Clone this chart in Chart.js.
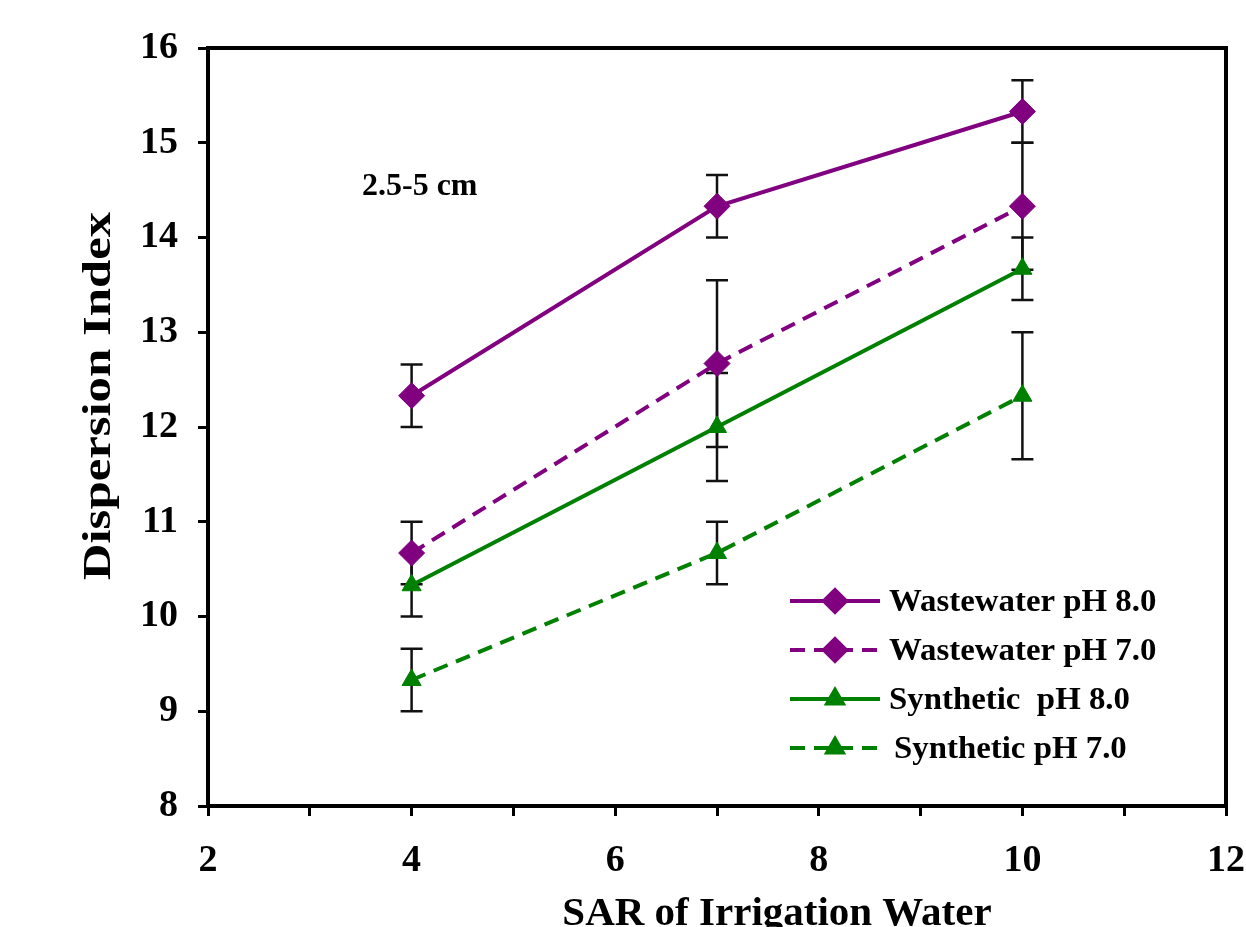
<!DOCTYPE html>
<html>
<head>
<meta charset="utf-8">
<script src="https://cdn.jsdelivr.net/npm/chart.js@4.4.1/dist/chart.umd.min.js"></script>
<style>
  body { margin: 0; background: #fff; }
  canvas { display: block; }
</style>
</head>
<body>
<canvas id="chart" width="1246" height="927"></canvas>
<script>
// SAR levels and mean dispersion index for each water type / pH
const sar = [4, 7, 10];
const wastewater8 = [12.33, 14.33, 15.33];
const wastewater7 = [10.67, 12.67, 14.33];
const synthetic8 = [10.33, 12.0, 13.67];
const synthetic7 = [9.33, 10.67, 12.33];

// standard deviations (error bars)
const wastewater8Err = [0.33, 0.33, 0.33];
const wastewater7Err = [0.33, 0.88, 0.67];
const synthetic8Err = [0.33, 0.57, 0.33];
const synthetic7Err = [0.33, 0.33, 0.67];

const seriesLabels = ['Wastewater pH 8.0', 'Wastewater pH 7.0', 'Synthetic  pH 8.0', 'Synthetic pH 7.0'];
const xTicks = [2, 4, 6, 8, 10, 12];
const yTicks = [8, 9, 10, 11, 12, 13, 14, 15, 16];
const depthLabel = '2.5-5 cm';
const xTitle = 'SAR of Irrigation Water';
const yTitle = 'Dispersion Index';

const PURPLE = '#800080';
const GREEN = '#008000';
const FONT = '"Liberation Serif", "Times New Roman", serif';

function pts(ys, errs) {
    return sar.map((x, i) => ({ x: x, y: ys[i], err: errs[i] }));
}

function makeSet(label, ys, errs, color, dashed, style) {
    return {
        label: label,
        data: pts(ys, errs),
        borderColor: color,
        backgroundColor: color,
        borderWidth: 4,
        borderDash: dashed ? [15, 9] : [],
        pointStyle: style,
        pointRadius: style === 'rectRot' ? 13 : 11,
        pointBorderWidth: 1,
        tension: 0,
        clip: false
    };
}

// error bars drawn under the lines and markers
const errorBars = {
    id: 'errorBars',
    beforeDatasetsDraw(chart) {
        const ctx = chart.ctx;
        const xs = chart.scales.x, ys = chart.scales.y;
        ctx.save();
        ctx.strokeStyle = '#111';
        ctx.lineWidth = 2.5;
        chart.data.datasets.forEach(ds => {
            ds.data.forEach(p => {
                const px = xs.getPixelForValue(p.x);
                const top = ys.getPixelForValue(p.y + p.err);
                const bot = ys.getPixelForValue(p.y - p.err);
                ctx.beginPath();
                ctx.moveTo(px, top); ctx.lineTo(px, bot);
                ctx.moveTo(px - 11, top); ctx.lineTo(px + 11, top);
                ctx.moveTo(px - 11, bot); ctx.lineTo(px + 11, bot);
                ctx.stroke();
            });
        });
        ctx.restore();
    }
};

// frame, titles, depth note and the legend
const decorations = {
    id: 'decorations',
    afterDraw(chart) {
        const ctx = chart.ctx;
        const a = chart.chartArea;
        ctx.save();
        ctx.strokeStyle = '#000';
        ctx.lineWidth = 4;
        ctx.strokeRect(a.left, a.top, a.right - a.left, a.bottom - a.top);

        ctx.fillStyle = '#000';
        ctx.font = 'bold 32px ' + FONT;
        ctx.textBaseline = 'alphabetic';
        ctx.textAlign = 'left';
        ctx.fillText(depthLabel, 362, 195);

        ctx.font = 'bold 41px ' + FONT;
        ctx.textAlign = 'center';
        ctx.fillText(xTitle, 777, 925);

        ctx.save();
        ctx.translate(110, 396);
        ctx.rotate(-Math.PI / 2);
        ctx.scale(1.27, 1);
        ctx.font = 'bold 40px ' + FONT;
        ctx.textAlign = 'center';
        ctx.fillText(yTitle, 0, 0);
        ctx.restore();

        const rows = [601, 650, 699, 748];
        chart.data.datasets.forEach((ds, i) => {
            const y = rows[i];
            ctx.save();
            ctx.strokeStyle = ds.borderColor;
            ctx.lineWidth = ds.borderWidth;
            ctx.setLineDash(ds.borderDash);
            ctx.beginPath();
            ctx.moveTo(790, y); ctx.lineTo(880, y);
            ctx.stroke();
            ctx.setLineDash([]);
            ctx.fillStyle = ds.backgroundColor;
            Chart.helpers.drawPoint(ctx, {
                pointStyle: ds.pointStyle,
                radius: ds.pointRadius - 2,
                borderWidth: 1,
                rotation: 0
            }, 835, y);
            ctx.fill();
            ctx.restore();

            ctx.save();
            ctx.fillStyle = '#000';
            ctx.font = 'bold 31px ' + FONT;
            ctx.textAlign = 'left';
            ctx.translate(i === 3 ? 894 : 889, y + 10);
            ctx.scale(1.06, 1);
            ctx.fillText(ds.label, 0, 0);
            ctx.restore();
        });
        ctx.restore();
    }
};

new Chart(document.getElementById('chart'), {
    type: 'line',
    data: {
        datasets: [
            makeSet(seriesLabels[0], wastewater8, wastewater8Err, PURPLE, false, 'rectRot'),
            makeSet(seriesLabels[1], wastewater7, wastewater7Err, PURPLE, true, 'rectRot'),
            makeSet(seriesLabels[2], synthetic8, synthetic8Err, GREEN, false, 'triangle'),
            makeSet(seriesLabels[3], synthetic7, synthetic7Err, GREEN, true, 'triangle')
        ]
    },
    options: {
        responsive: false,
        animation: false,
        devicePixelRatio: 1,
        layout: { padding: { top: 48, right: 20, left: 0, bottom: 0 } },
        plugins: { legend: { display: false }, tooltip: { enabled: false } },
        scales: {
            x: {
                type: 'linear',
                min: xTicks[0],
                max: xTicks[xTicks.length - 1],
                afterFit: s => {
                    s.height = 121;
                    s.paddingLeft = 0;
                    s.paddingRight = 0;
                },
                afterBuildTicks: s => {
                    const t = [];
                    for (let v = s.min; v <= s.max; v++) t.push({ value: v });
                    s.ticks = t;
                },
                ticks: {
                    autoSkip: false,
                    maxRotation: 0,
                    padding: 22,
                    color: '#000',
                    font: { family: FONT, size: 38, weight: 'bold' },
                    callback: v => xTicks.includes(v) ? String(v) : ''
                },
                grid: { drawOnChartArea: false, drawTicks: true, tickLength: 10, color: '#000', lineWidth: 3 },
                border: { display: true, color: '#000', width: 4 }
            },
            y: {
                min: yTicks[0],
                max: yTicks[yTicks.length - 1],
                afterFit: s => {
                    s.width = 208;
                    s.paddingTop = 0;
                    s.paddingBottom = 0;
                },
                afterBuildTicks: s => { s.ticks = yTicks.map(v => ({ value: v })); },
                ticks: {
                    padding: 20,
                    color: '#000',
                    font: { family: FONT, size: 38, weight: 'bold' }
                },
                grid: { drawOnChartArea: false, drawTicks: true, tickLength: 10, color: '#000', lineWidth: 3 },
                border: { display: true, color: '#000', width: 4 }
            }
        }
    },
    plugins: [errorBars, decorations]
});
</script>
</body>
</html>
